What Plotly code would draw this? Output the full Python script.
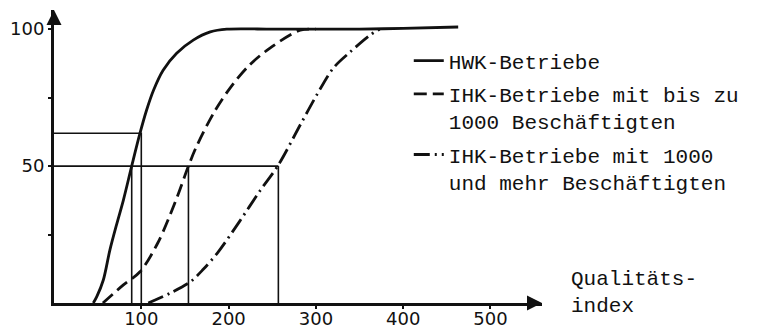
import plotly.graph_objects as go

# ---- data ----
hwk_x = [45, 49, 56.5, 64, 72, 79.5, 89, 98.5, 106, 114, 125, 140.5, 159.5, 179, 198, 250, 300, 350, 400, 463]
hwk_y = [0, 2.3, 8.4, 19.3, 29, 37.6, 50, 62, 70.4, 77.7, 85, 91.2, 96, 99, 100, 100, 100, 100, 100.3, 100.8]

ihk_small_x = [56, 79.5, 98.5, 119, 139, 154, 163, 184, 204, 224, 247, 282, 300]
ihk_small_y = [0, 6.6, 11.4, 22, 37, 50, 57, 70, 79.5, 86.9, 93, 99.6, 100]

ihk_large_x = [108, 133, 156, 171, 188, 213, 236, 257, 282, 301, 320, 339, 362, 373]
ihk_large_y = [0, 3.6, 7.7, 12.3, 18.6, 30, 41, 50.4, 65, 76, 85.8, 91.6, 97.8, 100]

median_level = 50
median_x = [89, 154, 257]          # x where each curve reaches 50
ref_x, ref_y = 100, 62              # HWK value at quality index 100

x_ticks = [100, 200, 300, 400, 500]
y_ticks = [25, 50, 75, 100]
y_ticktext = ["", "50", "", "100"]

names = ["HWK-Betriebe",
         "IHK-Betriebe mit bis zu<br>1000 Beschäftigten",
         "IHK-Betriebe mit 1000<br>und mehr Beschäftigten"]

x_max, y_max = 559, 107
ink = "#111111"
mono = "Liberation Mono"

fig = go.Figure()

# helper lines
hx, hy = [0, max(median_x)], [median_level, median_level]
for m in median_x:
    hx += [None, m, m]
    hy += [None, 0, median_level]
hx += [None, 0, ref_x, ref_x]
hy += [None, ref_y, ref_y, 0]
fig.add_trace(go.Scatter(x=hx, y=hy, mode="lines", showlegend=False,
                         line=dict(color=ink, width=1.6), hoverinfo="skip"))

series = [(hwk_x, hwk_y, "solid"),
          (ihk_small_x, ihk_small_y, "13px,6px"),
          (ihk_large_x, ihk_large_y, "16px,5px,2px,5px")]
for i, ((xs, ys, dash), nm) in enumerate(zip(series, names)):
    fig.add_trace(go.Scatter(x=xs, y=ys, mode="lines", name=nm,
                             legendgroup=str(i),
                             line=dict(color=ink, width=2.8, dash=dash,
                                       shape="spline", smoothing=0.9)))

axis_common = dict(showgrid=False, zeroline=False, showline=True,
                   linecolor=ink, linewidth=3, ticks="outside",
                   ticklen=3, tickwidth=1.5, tickcolor=ink,
                   tickfont=dict(family="DejaVu Sans", size=18, color=ink),
                   automargin=False)

fig.update_layout(
    width=770, height=330,
    margin=dict(l=54, r=228, t=10, b=27),
    paper_bgcolor="white", plot_bgcolor="white",
    xaxis=dict(range=[0, x_max], tickvals=x_ticks, ticklabelstandoff=-6,
               **axis_common),
    yaxis=dict(range=[0, y_max], tickvals=y_ticks, ticktext=y_ticktext,
               **axis_common),
    legend=dict(x=0.727, y=0.896, xanchor="left", yanchor="top",
                bgcolor="rgba(0,0,0,0)", valign="top",
                font=dict(family=mono, size=21, color=ink),
                tracegroupgap=3),
    showlegend=True,
)

# axis arrowheads
fig.add_annotation(x=x_max, y=0, ax=x_max - 15, ay=0, axref="x", ayref="y",
                   xref="x", yref="y", text="", showarrow=True,
                   arrowhead=2, arrowsize=1, arrowwidth=3, arrowcolor=ink)
fig.add_annotation(x=0, y=y_max, ax=0, ay=y_max - 6, axref="x", ayref="y",
                   xref="x", yref="y", text="", showarrow=True,
                   arrowhead=2, arrowsize=1, arrowwidth=3, arrowcolor=ink)

# axis title
fig.add_annotation(x=1.055, y=0.033, xref="paper", yref="paper",
                   xanchor="left", yanchor="middle", align="left",
                   text="Qualitäts-<br>index", showarrow=False,
                   font=dict(family=mono, size=21, color=ink))

fig.write_html("out.html", config={"displayModeBar": False},
               post_script="document.body.style.margin='0px';")
